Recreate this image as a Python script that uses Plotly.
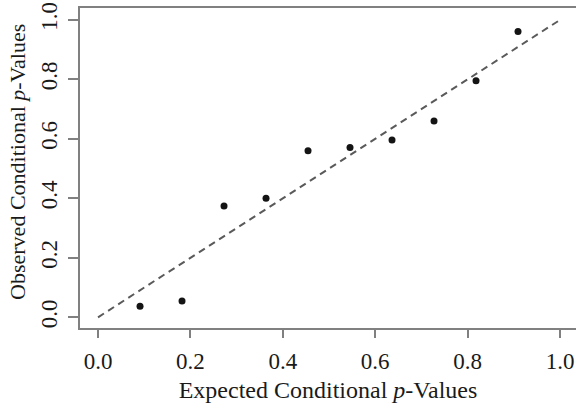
import plotly.graph_objects as go

# Expected (uniform quantiles) and observed conditional p-values
expected = [1/11, 2/11, 3/11, 4/11, 5/11, 6/11, 7/11, 8/11, 9/11, 10/11]
observed = [0.037, 0.055, 0.374, 0.400, 0.560, 0.571, 0.596, 0.660, 0.795, 0.961]

ref_line_x = [0.0, 1.0]
ref_line_y = [0.0, 1.0]

tick_vals = [0.0, 0.2, 0.4, 0.6, 0.8, 1.0]
tick_text = ["0.0", "0.2", "0.4", "0.6", "0.8", "1.0"]

font_family = "Liberation Serif, Times New Roman, serif"
axis_gray = "#808080"

fig = go.Figure()

fig.add_trace(go.Scatter(
    x=ref_line_x, y=ref_line_y, mode="lines",
    line=dict(color="#5a5a5a", width=2, dash="7px,5px"),
    hoverinfo="skip", showlegend=False,
))

fig.add_trace(go.Scatter(
    x=expected, y=observed, mode="markers",
    marker=dict(color="#141414", size=7, line=dict(width=0)),
    showlegend=False,
))

fig.update_layout(
    width=576, height=403,
    margin=dict(l=80, r=0, t=8, b=75),
    paper_bgcolor="white", plot_bgcolor="white",
    font=dict(family=font_family, size=20, color="#1a1a1a"),
    xaxis=dict(
        range=[-0.039, 1.0346],
        tickvals=tick_vals, ticktext=tick_text,
        tickfont=dict(size=23),
        ticklabelstandoff=4,
        showgrid=False, zeroline=False,
        showline=True, mirror=True, linecolor=axis_gray, linewidth=1.5,
        ticks="outside", ticklen=8, tickwidth=1.5, tickcolor=axis_gray,
        title=dict(text="Expected Conditional <i>p</i>-Values", standoff=13),
    ),
    yaxis=dict(
        range=[-0.036, 1.040],
        tickvals=tick_vals, ticktext=tick_text,
        tickangle=-90,
        tickfont=dict(size=23),
        ticklabelstandoff=2,
        showgrid=False, zeroline=False,
        showline=True, mirror=False, linecolor=axis_gray, linewidth=1.5,
        ticks="outside", ticklen=10, tickwidth=1.5, tickcolor=axis_gray,
    ),
    annotations=[dict(
        text="Observed Conditional <i>p</i>-Values",
        xref="paper", yref="paper", x=-0.125, y=0.519,
        xanchor="center", yanchor="middle", textangle=-90,
        showarrow=False, font=dict(family=font_family, size=22, color="#1a1a1a"),
    )],
)

fig.write_html("out.html")
